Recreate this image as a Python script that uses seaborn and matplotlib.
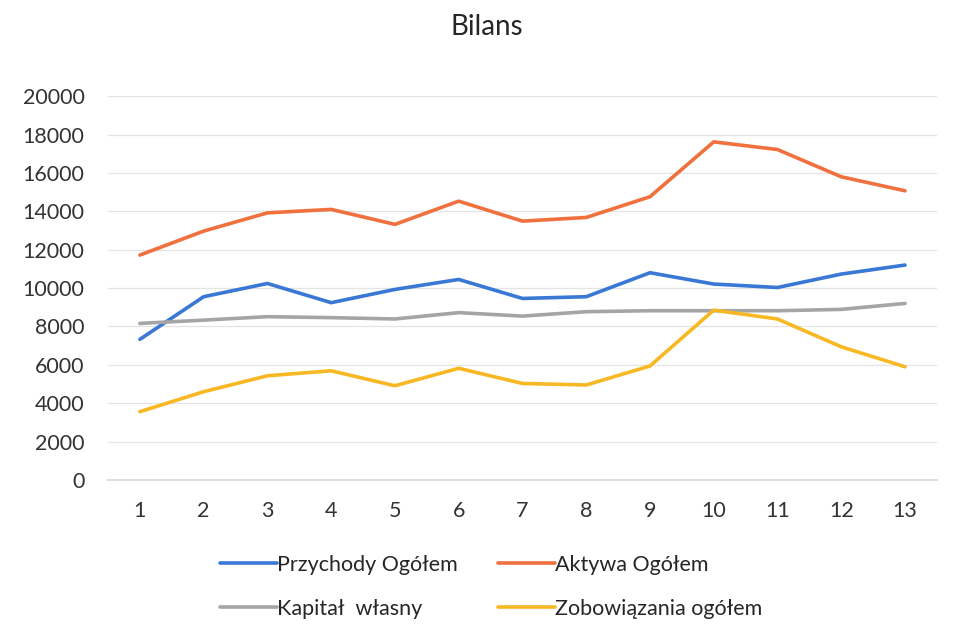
import matplotlib
matplotlib.use("Agg")
import matplotlib.pyplot as plt
import seaborn as sns
import pandas as pd

periods = list(range(1, 14))
przychody = [7330, 9550, 10240, 9240, 9930, 10450, 9460, 9550, 10800, 10210, 10030, 10730, 11200]
aktywa = [11720, 12970, 13920, 14100, 13320, 14530, 13490, 13680, 14760, 17620, 17220, 15800, 15070]
kapital = [8160, 8330, 8510, 8460, 8390, 8720, 8540, 8770, 8820, 8820, 8820, 8890, 9200]
zobowiazania = [3560, 4600, 5430, 5690, 4910, 5820, 5030, 4950, 5940, 8850, 8390, 6940, 5900]
series_names = ["Przychody Ogółem", "Aktywa Ogółem", "Kapitał  własny", "Zobowiązania ogółem"]
colors = ["#3a78d6", "#f0703e", "#a5a5a5", "#f8b824"]
y_ticks = list(range(0, 20001, 2000))

rows = []
for name, vals in zip(series_names, [przychody, aktywa, kapital, zobowiazania]):
    for p, v in zip(periods, vals):
        rows.append({"Okres": p, "Wartość": v, "Seria": name})
df = pd.DataFrame(rows)

sns.set_theme(style="white")
plt.rcParams["font.family"] = ["Lato", "DejaVu Sans"]

fig = plt.figure(figsize=(9.56, 6.37), dpi=100)
ax = fig.add_axes([0.113, 0.2465, 0.867, 0.6025])

sns.lineplot(data=df, x="Okres", y="Wartość", hue="Seria", hue_order=series_names,
             palette=colors, linewidth=2.6, ax=ax, legend=True)

ax.set_xlim(0.5, 13.5)
ax.set_ylim(0, 20000)
ax.set_xticks(periods)
ax.set_yticks(y_ticks)
ax.tick_params(axis="both", labelsize=15.5, colors="#333333", length=0)
ax.tick_params(axis="y", pad=17)
ax.tick_params(axis="x", pad=15)
ax.grid(axis="y", color="#e4e4e4", linewidth=0.9)
ax.set_axisbelow(True)
for s in ["top", "right", "left"]:
    ax.spines[s].set_visible(False)
ax.spines["bottom"].set_color("#d9d9d9")
ax.set_xlabel("")
ax.set_ylabel("")

handles, labels = ax.get_legend_handles_labels()
order = [0, 2, 1, 3]
ax.legend(handles=[handles[i] for i in order], labels=[labels[i] for i in order],
          loc="center", bbox_to_anchor=(0.514, 0.079), bbox_transform=fig.transFigure,
          ncol=2, frameon=False, fontsize=15.5,
          handlelength=2.65, handletextpad=0.0, columnspacing=1.85, labelspacing=1.1,
          labelcolor="#262626")

fig.text(0.509, 0.958, "Bilans", ha="center", va="center", fontsize=20, color="#262626")

fig.savefig("out.png", dpi=100, facecolor="white")
